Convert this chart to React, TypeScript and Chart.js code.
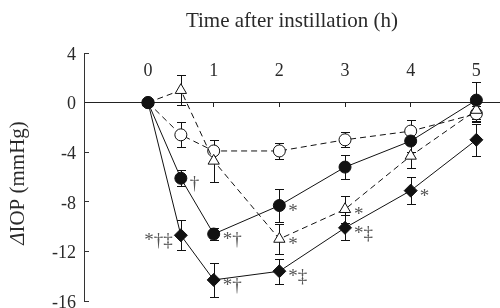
import React, { useEffect, useRef } from 'react';
import { Chart, registerables } from 'chart.js';

Chart.register(...registerables);

// ---- data ----
const timePoints = [0, 0.5, 1, 2, 3, 4, 5];
const xTickValues = [0, 1, 2, 3, 4, 5];
const yTickValues = [4, 0, -4, -8, -12, -16];

const openCircleMean = [0, -2.6, -3.9, -3.9, -3.0, -2.3, -0.9];
const openCircleErr = [0, 1.0, 0.9, 0.65, 0.6, 0.9, 0.6];

const triangleMean = [0, 1.0, -4.7, -11.0, -8.6, -4.3, -0.6];
const triangleErr = [0, 1.2, 1.7, 1.2, 1.1, 1.0, 1.0];

const filledCircleMean = [0, -6.1, -10.6, -8.3, -5.2, -3.1, 0.2];
const filledCircleErr = [0, 0.65, 0.5, 1.3, 0.95, 0.9, 1.5];

const diamondMean = [0, -10.7, -14.3, -13.6, -10.1, -7.1, -3.0];
const diamondErr = [0, 1.2, 1.4, 1.0, 1.0, 1.1, 1.3];

// annotations: dataset index (0 filled circle, 1 triangle, 2 open circle, 3 diamond), point index, text, side
const annotDataset = [0, 3, 0, 3, 0, 1, 3, 1, 3, 3];
const annotPoint = [1, 1, 2, 2, 3, 3, 3, 4, 4, 5];
const annotText = ['†', '*†‡', '*†', '*†', '*', '*', '*‡', '*', '*‡', '*'];
const annotSide = ['right', 'left', 'right', 'right', 'right', 'right', 'right', 'right', 'right', 'right'];

const xTitle = 'Time after instillation (h)';
const yTitleSymbol = 'Δ';
const yTitleRest = 'IOP (mmHg)';

const FONT = "'Liberation Serif', 'Times New Roman', serif";
const TEXT = '#2a2a2a';
const LINE = '#111111';

const toPoints = (vals: number[]) => vals.map((v, i) => ({ x: timePoints[i], y: v }));

const errorBarPlugin = {
  id: 'errorBars',
  beforeDatasetsDraw(chart: any) {
    const { ctx, scales } = chart;
    const x = scales.x;
    const y = scales.y;
    ctx.save();
    ctx.strokeStyle = LINE;
    ctx.lineWidth = 1;
    chart.data.datasets.forEach((ds: any) => {
      ds.data.forEach((pt: any, i: number) => {
        const e = ds.errors[i];
        if (!e) return;
        const px = Math.round(x.getPixelForValue(pt.x)) + 0.5;
        const yt = Math.round(y.getPixelForValue(pt.y + e)) + 0.5;
        const yb = Math.round(y.getPixelForValue(pt.y - e)) + 0.5;
        ctx.beginPath();
        ctx.moveTo(px, yt);
        ctx.lineTo(px, yb);
        ctx.moveTo(px - 4.5, yt);
        ctx.lineTo(px + 4.5, yt);
        ctx.moveTo(px - 4.5, yb);
        ctx.lineTo(px + 4.5, yb);
        ctx.stroke();
      });
    });
    ctx.restore();
  },
};

const annotationPlugin = {
  id: 'annots',
  afterDatasetsDraw(chart: any) {
    const { ctx } = chart;
    ctx.save();
    ctx.fillStyle = '#555555';
    ctx.font = `19px ${FONT}`;
    ctx.textBaseline = 'middle';
    annotText.forEach((t, k) => {
      const el = chart.getDatasetMeta(annotDataset[k]).data[annotPoint[k]];
      if (!el) return;
      if (annotSide[k] === 'left') {
        ctx.textAlign = 'right';
        ctx.fillText(t, el.x - 8, el.y + 6);
      } else {
        ctx.textAlign = 'left';
        ctx.fillText(t, el.x + 9, el.y + 6);
      }
    });
    ctx.restore();
  },
};

const yTitlePlugin = {
  id: 'yTitle',
  afterDraw(chart: any) {
    const { ctx, chartArea } = chart;
    ctx.save();
    const cy = (chartArea.top + chartArea.bottom) / 2 + 6;
    ctx.translate(18, cy);
    ctx.rotate(-Math.PI / 2);
    ctx.fillStyle = TEXT;
    ctx.textBaseline = 'middle';
    ctx.font = `italic 21px ${FONT}`;
    const w1 = ctx.measureText(yTitleSymbol).width;
    ctx.font = `21px ${FONT}`;
    const w2 = ctx.measureText(yTitleRest).width;
    const start = -(w1 + w2) / 2;
    ctx.textAlign = 'left';
    ctx.font = `italic 21px ${FONT}`;
    ctx.fillText(yTitleSymbol, start, 0);
    ctx.font = `21px ${FONT}`;
    ctx.fillText(yTitleRest, start + w1, 0);
    ctx.restore();
  },
};

const X_MIN = -0.975;
const X_MAX = 5.36;

export default function App() {
  const ref = useRef<HTMLCanvasElement>(null);
  useEffect(() => {
    if (!ref.current) return;
    const common = { borderColor: LINE, borderWidth: 1, pointBorderColor: LINE, pointBorderWidth: 1, tension: 0 };
    const chart = new Chart(ref.current, {
      type: 'line',
      data: {
        datasets: [
          {
            ...common,
            label: 'filled circle',
            data: toPoints(filledCircleMean),
            errors: filledCircleErr,
            pointStyle: 'circle',
            pointRadius: 6,
            pointBackgroundColor: LINE,
          } as any,
          {
            ...common,
            label: 'triangle',
            data: toPoints(triangleMean),
            errors: triangleErr,
            borderDash: [6, 4],
            pointStyle: 'triangle',
            pointRadius: 6.5,
            pointBackgroundColor: '#ffffff',
          } as any,
          {
            ...common,
            label: 'open circle',
            data: toPoints(openCircleMean),
            errors: openCircleErr,
            borderDash: [6, 4],
            pointStyle: 'circle',
            pointRadius: 6,
            pointBackgroundColor: '#ffffff',
          } as any,
          {
            ...common,
            label: 'diamond',
            data: toPoints(diamondMean),
            errors: diamondErr,
            pointStyle: 'rectRot',
            pointRadius: 6.5,
            pointBackgroundColor: LINE,
          } as any,
        ],
      },
      options: {
        responsive: false,
        animation: false,
        devicePixelRatio: 1,
        layout: { autoPadding: false, padding: { left: 0, right: 0, top: 0, bottom: 7 } },
        plugins: { legend: { display: false }, tooltip: { enabled: false }, title: { display: false } },
        scales: {
          x: {
            type: 'linear',
            position: 'top',
            min: X_MIN,
            max: X_MAX,
            afterBuildTicks: (s: any) => {
              s.ticks = xTickValues.map((v) => ({ value: v }));
            },
            grid: { display: false },
            border: { display: false },
            ticks: { font: { family: FONT, size: 18 }, color: TEXT, padding: 7, mirror: true, maxRotation: 0, autoSkip: false },
            title: {
              display: true,
              text: xTitle,
              font: { family: FONT, size: 21 },
              color: TEXT,
              padding: { top: 9, bottom: 0 },
            },
            afterFit: (s: any) => {
              s.height = 53;
              s.paddingLeft = 0;
              s.paddingRight = 0;
            },
          },
          x2: {
            type: 'linear',
            axis: 'x',
            position: { y: 0 },
            min: X_MIN,
            max: X_MAX,
            afterBuildTicks: (s: any) => {
              s.ticks = xTickValues.map((v) => ({ value: v }));
            },
            grid: { display: true, drawOnChartArea: false, drawTicks: true, tickLength: 4, color: '#222' },
            border: { display: true, color: '#222', width: 1 },
            ticks: { display: false },
          } as any,
          y: {
            type: 'linear',
            position: 'left',
            min: -16,
            max: 4,
            afterBuildTicks: (s: any) => {
              s.ticks = yTickValues.map((v) => ({ value: v }));
            },
            grid: { display: true, drawOnChartArea: false, drawTicks: true, tickLength: -5, color: '#333' },
            border: { display: true, color: '#333', width: 1 },
            ticks: { font: { family: FONT, size: 18 }, color: TEXT, padding: 13, labelOffset: 2 },
            afterFit: (s: any) => {
              s.width = 84;
              s.paddingTop = 0;
              s.paddingBottom = 0;
            },
          },
        },
      },
      plugins: [errorBarPlugin, annotationPlugin, yTitlePlugin],
    } as any);
    return () => chart.destroy();
  }, []);
  return (
    <div style={{ position: 'fixed', left: 0, top: 0, width: 500, height: 308, background: '#fff' }}>
      <canvas ref={ref} width={500} height={308} />
    </div>
  );
}
